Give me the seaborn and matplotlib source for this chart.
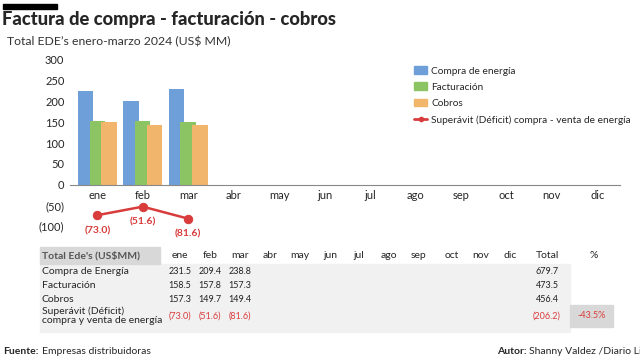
import matplotlib
matplotlib.use("Agg")
import matplotlib.pyplot as plt
import matplotlib.patches as mpatches
from matplotlib.lines import Line2D
import pandas as pd
import seaborn as sns

sns.set_style("white")
plt.rcParams['font.family'] = ['Lato', 'DejaVu Sans']

months = ["ene", "feb", "mar", "abr", "may", "jun", "jul", "ago", "sep", "oct", "nov", "dic"]
chart_months = ["ene", "feb", "mar"]
compra_bar = [225, 202, 231]
facturacion_bar = [153, 153, 152]
cobros_bar = [152, 144, 144]
deficit = [-73.0, -51.6, -81.6]
deficit_labels = ["(73.0)", "(51.6)", "(81.6)"]

series_names = ["Compra de energía", "Facturación", "Cobros"]
colors = ["#6f9fd8", "#8cc464", "#f2b56c"]
red = "#d83c3c"

table_rows = ["Compra de Energía", "Facturación", "Cobros", "Superávit (Déficit)\ncompra y venta de energía"]
table_vals = [["231.5", "209.4", "238.8"], ["158.5", "157.8", "157.3"],
              ["157.3", "149.7", "149.4"], ["(73.0)", "(51.6)", "(81.6)"]]
table_total = ["679.7", "473.5", "456.4", "(206.2)"]
pct = "-43.5%"

df = pd.DataFrame({
    "mes": chart_months * 3,
    "valor": compra_bar + facturacion_bar + cobros_bar,
    "serie": [s for s in series_names for _ in chart_months],
})

fig = plt.figure(figsize=(6.4, 3.6), dpi=100)

# main bars
ax = fig.add_axes([70 / 640, 1 - 184.7 / 360, 550 / 640, 124.7 / 360])
sns.barplot(data=df, x="mes", y="valor", hue="serie", order=months, hue_order=series_names,
            palette=colors, width=0.765, dodge=True, saturation=1, linewidth=0,
            edgecolor="none", ax=ax, legend=False)
for p in ax.patches:
    c = p.get_x() + p.get_width() / 2
    p.set_width(0.34)
    p.set_x(c - 0.17)
ax.set_ylim(0, 300)
ax.set_yticks(range(0, 301, 50))
ax.set_xlim(-0.6, 11.5)
ax.set_xlabel("")
ax.set_ylabel("")
sns.despine(ax=ax, left=True)
ax.spines["bottom"].set_color("#888888")
ax.tick_params(axis="both", length=0, labelsize=8, pad=4)

# deficit line
ax2 = fig.add_axes([70 / 640, 1 - 236 / 360, 550 / 640, 40 / 360])
sns.lineplot(x=[0, 1, 2], y=deficit, color=red, marker="o", markersize=6,
             markeredgecolor=red, linewidth=1.8, ax=ax2)
for i, (v, lab) in enumerate(zip(deficit, deficit_labels)):
    ax2.annotate(lab, (i, v), xytext=(0, -11), textcoords="offset points", ha="center",
                 va="center", color=red, fontsize=7.5, fontweight="bold")
ax2.set_xlim(-0.6, 11.5)
ax2.set_ylim(-125, -25)
ax2.set_yticks([-50, -100])
ax2.set_yticklabels(["(50)", "(100)"])
ax2.set_xticks([])
sns.despine(ax=ax2, left=True, bottom=True)
ax2.tick_params(axis="y", length=0, labelsize=8, pad=4)
ax2.patch.set_alpha(0)

# legend
handles = [mpatches.Patch(color=c, label=n) for c, n in zip(colors, series_names)]
handles.append(Line2D([0], [0], color=red, marker="o", markersize=3, linewidth=2,
                      label="Superávit (Déficit) compra - venta de energía"))
fig.legend(handles=handles, loc="upper left", bbox_to_anchor=(405 / 640, 1 - 57 / 360),
           frameon=False, fontsize=7.3, handlelength=1.3, handleheight=0.8,
           labelspacing=0.68, handletextpad=0.4)

# title block
fig.patches.append(mpatches.Rectangle((3 / 640, 1 - 9 / 360), 54 / 640, 5 / 360,
                                      transform=fig.transFigure, color="black"))
fig.text(2 / 640, 1 - 20 / 360, "Factura de compra - facturación - cobros", fontsize=13.2,
         fontweight="black", va="center", ha="left")
fig.text(7 / 640, 1 - 42 / 360, "Total EDE’s enero-marzo 2024 (US$ MM)", fontsize=8.8,
         fontweight="normal", va="center", ha="left", color="#333333")

# table
fig.patches.append(mpatches.Rectangle((40 / 640, 1 - 332 / 360), 530 / 640, 68 / 360,
                                      transform=fig.transFigure, color="#f1f1f1", zorder=0))
fig.patches.append(mpatches.Rectangle((40 / 640, 1 - 264 / 360), 120 / 640, 17 / 360,
                                      transform=fig.transFigure, color="#d8d8d8", zorder=0))
fig.patches.append(mpatches.Rectangle((570 / 640, 1 - 327 / 360), 43 / 640, 22 / 360,
                                      transform=fig.transFigure, color="#d8d8d8", zorder=0))
col_x = [180, 210, 240, 270, 300, 330, 359, 389, 419, 452, 481, 510]
fig.text(42 / 640, 1 - 256 / 360, "Total Ede's (US$MM)", fontsize=7.5, fontweight="bold",
         color="#555555", va="center")
for m, x in zip(months, col_x):
    fig.text(x / 640, 1 - 256 / 360, m, fontsize=7.5, ha="center", va="center")
fig.text(547 / 640, 1 - 256 / 360, "Total", fontsize=7.5, ha="center", va="center")
fig.text(594 / 640, 1 - 256 / 360, "%", fontsize=7.5, ha="center", va="center")
row_y = [271, 285, 299, 316]
for r, (name, vals, tot) in enumerate(zip(table_rows, table_vals, table_total)):
    col = red if r == 3 else "#222222"
    fig.text(42 / 640, 1 - row_y[r] / 360, name, fontsize=7.5, va="center",
             linespacing=0.95)
    for v, x in zip(vals, col_x):
        fig.text(x / 640, 1 - row_y[r] / 360, v, fontsize=6.5, ha="center", va="center", color=col)
    fig.text(547 / 640, 1 - row_y[r] / 360, tot, fontsize=6.5, ha="center", va="center", color=col)
fig.text(592 / 640, 1 - 316 / 360, pct, fontsize=6.5, ha="center", va="center", color=red)

# footer
fig.text(3 / 640, 1 - 352 / 360, "Fuente:", fontsize=7.5, fontweight="bold", va="center")
fig.text(42 / 640, 1 - 352 / 360, "Empresas distribuidoras", fontsize=7.5, va="center")
fig.text(497 / 640, 1 - 352 / 360, "Autor:", fontsize=7.5, fontweight="bold", va="center")
fig.text(529 / 640, 1 - 352 / 360, "Shanny Valdez /Diario Libre", fontsize=7.5, va="center")

fig.savefig("out.png", dpi=100)
